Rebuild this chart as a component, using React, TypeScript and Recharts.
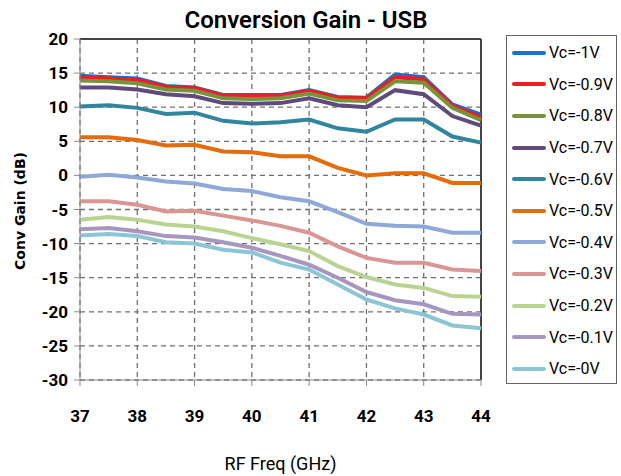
import React from 'react'
import { CartesianGrid, Line, LineChart, ReferenceLine, XAxis, YAxis } from 'recharts'

const freqs = [37, 37.5, 38, 38.5, 39, 39.5, 40, 40.5, 41, 41.5, 42, 42.5, 43, 43.5, 44]

const vc1 = [14.6, 14.4, 14.2, 13.1, 12.9, 11.8, 11.8, 11.8, 12.5, 11.5, 11.4, 14.8, 14.4, 10.4, 8.9]
const vc09 = [14.4, 14.2, 14.0, 13.0, 12.8, 11.7, 11.7, 11.7, 12.4, 11.4, 11.3, 14.4, 14.1, 10.2, 8.5]
const vc08 = [13.9, 13.8, 13.5, 12.6, 12.4, 11.3, 11.2, 11.3, 12.0, 11.0, 10.9, 13.8, 13.6, 9.9, 8.1]
const vc07 = [12.9, 12.9, 12.6, 11.9, 11.6, 10.6, 10.5, 10.6, 11.3, 10.3, 10.0, 12.5, 11.9, 8.7, 7.3]
const vc06 = [10.1, 10.3, 9.9, 9.0, 9.2, 8.0, 7.6, 7.8, 8.2, 6.9, 6.4, 8.2, 8.2, 5.7, 4.8]
const vc05 = [5.6, 5.6, 5.2, 4.4, 4.5, 3.5, 3.4, 2.8, 2.8, 1.1, 0.0, 0.3, 0.3, -1.1, -1.1]
const vc04 = [-0.2, 0.1, -0.3, -0.9, -1.2, -2.0, -2.3, -3.2, -3.8, -5.4, -7.1, -7.4, -7.5, -8.4, -8.4]
const vc03 = [-3.8, -3.8, -4.3, -5.3, -5.2, -5.9, -6.6, -7.4, -8.4, -10.4, -12.1, -12.8, -12.8, -13.8, -14.0]
const vc02 = [-6.5, -6.1, -6.5, -7.2, -7.5, -8.2, -9.2, -10.1, -11.1, -13.3, -14.9, -16.0, -16.5, -17.7, -17.8]
const vc01 = [-7.9, -7.7, -8.2, -8.9, -9.1, -9.8, -10.6, -11.8, -13.1, -15.0, -17.1, -18.3, -18.9, -20.3, -20.4]
const vc0 = [-8.8, -8.6, -8.9, -9.8, -10.0, -10.9, -11.3, -12.8, -13.8, -16.0, -18.2, -19.5, -20.4, -22.0, -22.4]

const seriesNames = ['Vc=-1V', 'Vc=-0.9V', 'Vc=-0.8V', 'Vc=-0.7V', 'Vc=-0.6V', 'Vc=-0.5V', 'Vc=-0.4V', 'Vc=-0.3V', 'Vc=-0.2V', 'Vc=-0.1V', 'Vc=-0V']
const seriesValues = [vc1, vc09, vc08, vc07, vc06, vc05, vc04, vc03, vc02, vc01, vc0]
const COLORS = ['#1F6FC5', '#EE1C24', '#77933C', '#604A7B', '#31859C', '#E46C0A', '#8EA9D8', '#D99694', '#B9D492', '#A797C0', '#8CC6D6']

const xTicks = [37, 38, 39, 40, 41, 42, 43, 44]
const yTicks = [-30, -25, -20, -15, -10, -5, 0, 5, 10, 15, 20]

// plain keys (s0, s1, ...) so no dots end up inside a dataKey
const data = freqs.map((f, i) => {
    const row: Record<string, number> = { freq: f }
    seriesValues.forEach((vals, s) => {
        row[`s${s}`] = vals[i]
    })
    return row
})

const FONT = "Roboto, 'Liberation Sans', sans-serif"

const LegendBox = () => (
    <div
        style={{
            position: 'absolute',
            left: 506,
            top: 35,
            width: 109,
            height: 346,
            border: '1.5px solid #666',
            background: '#fff',
            fontFamily: FONT,
            fontSize: 16,
            color: '#000',
            paddingTop: 1,
        }}
    >
        {seriesNames.map((name, i) => (
            <div key={name} style={{ display: 'flex', alignItems: 'center', height: 31.6 }}>
                <span style={{ display: 'inline-block', width: 34, height: 4, background: COLORS[i], marginLeft: 5, marginRight: 3, borderRadius: 2 }} />
                <span>{name}</span>
            </div>
        ))}
    </div>
)

export default function App() {
    return (
        <div>
            <div style={{ margin: '-8px 0 0 -8px' }}>
                <LineChart width={621} height={476} data={data} margin={{ top: 39, right: 140, bottom: 66, left: 20 }}>
                    <CartesianGrid stroke="#707070" strokeWidth={1.3} strokeDasharray="5 4" />
                    <XAxis
                        dataKey="freq"
                        type="number"
                        domain={[37, 44]}
                        ticks={xTicks}
                        stroke="#8a8a8a"
                        tickSize={6}
                        tickMargin={24}
                        tick={{ fill: '#000', fontFamily: FONT, fontSize: 17, fontWeight: 'bold' }}
                    />
                    <YAxis
                        domain={[-30, 20]}
                        ticks={yTicks}
                        stroke="#8a8a8a"
                        tickSize={6}
                        tickMargin={6}
                        tick={{ fill: '#000', fontFamily: FONT, fontSize: 17, fontWeight: 'bold' }}
                    />
                    <ReferenceLine y={20} stroke="#444" strokeWidth={2} />
                    <ReferenceLine x={44} stroke="#444" strokeWidth={2} />
                    {seriesNames.map((name, i) => (
                        <Line
                            key={name}
                            name={name}
                            dataKey={`s${i}`}
                            stroke={COLORS[i]}
                            strokeWidth={4}
                            dot={false}
                            isAnimationActive={false}
                            type="linear"
                        />
                    ))}
                </LineChart>
            </div>
            <div style={{ position: 'absolute', left: 0, width: 612, top: 5, textAlign: 'center', fontFamily: FONT, fontSize: 24, fontWeight: 600, lineHeight: '30px' }}>
                Conversion Gain - USB
            </div>
            <div style={{ position: 'absolute', left: 80, width: 401, top: 452, textAlign: 'center', fontFamily: FONT, fontSize: 18, lineHeight: '24px' }}>
                RF Freq (GHz)
            </div>
            <div
                style={{
                    position: 'absolute',
                    left: 20 - 80,
                    top: 211 - 10,
                    width: 160,
                    height: 20,
                    lineHeight: '20px',
                    textAlign: 'center',
                    fontFamily: "'DejaVu Sans', sans-serif",
                    fontSize: 14,
                    fontWeight: 'bold',
                    transform: 'rotate(-90deg)',
                }}
            >
                Conv Gain (dB)
            </div>
            <LegendBox />
        </div>
    )
}
